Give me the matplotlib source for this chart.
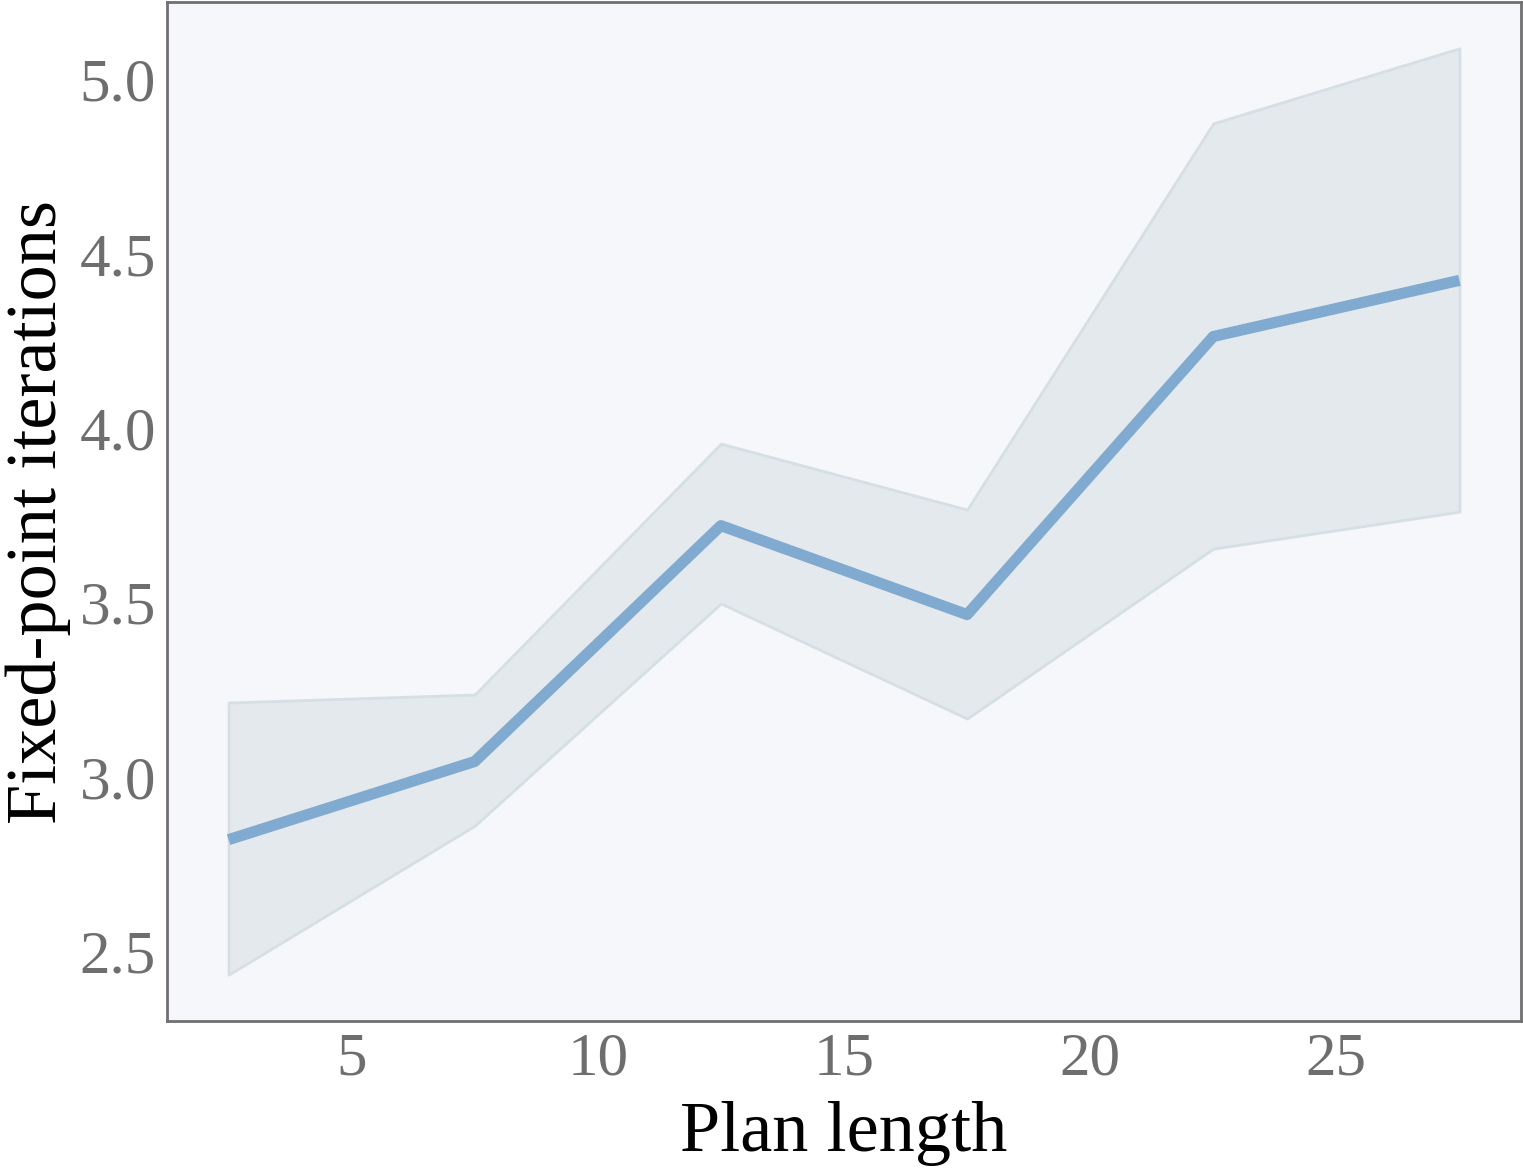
import matplotlib
matplotlib.use("Agg")
import matplotlib.pyplot as plt
import numpy as np

plan_length = [2.5, 7.5, 12.5, 17.5, 22.5, 27.5]
mean_iters = [2.821, 3.045, 3.721, 3.466, 4.263, 4.424]
lower_iters = [2.434, 2.861, 3.498, 3.168, 3.655, 3.761]
upper_iters = [3.214, 3.237, 3.956, 3.767, 4.874, 5.089]
x_ticks = [5, 10, 15, 20, 25]
y_ticks = [2.5, 3.0, 3.5, 4.0, 4.5, 5.0]

plt.rcParams['font.family'] = ['Liberation Serif', 'DejaVu Serif']

fig = plt.figure(figsize=(15.23, 11.69), dpi=100)
ax = fig.add_axes([167/1523, 1 - 1021/1169, (1521-167)/1523, (1021-2)/1169])
ax.set_facecolor('#f5f7fa')

ax.fill_between(plan_length, lower_iters, upper_iters, facecolor='#e4e9ed',
                edgecolor='#d6dfe3', linewidth=2)
ax.plot(plan_length, mean_iters, color='#80aad0', linewidth=8, solid_capstyle='butt')

ax.set_xticks(x_ticks)
ax.set_yticks(y_ticks)
ax.set_yticklabels([f"{v:.1f}" for v in y_ticks])
ax.tick_params(axis='both', length=0, labelsize=44, labelcolor='#6e6e6e')
ax.tick_params(axis='y', pad=8)
ax.tick_params(axis='x', pad=8)
for s in ax.spines.values():
    s.set_color('#707070')
    s.set_linewidth(2)
ax.set_xlabel('Plan length', fontsize=52, color='black', labelpad=10)
ax.set_ylabel('Fixed-point iterations', fontsize=52, color='black', labelpad=6)

fig.savefig('out.png', dpi=100)
